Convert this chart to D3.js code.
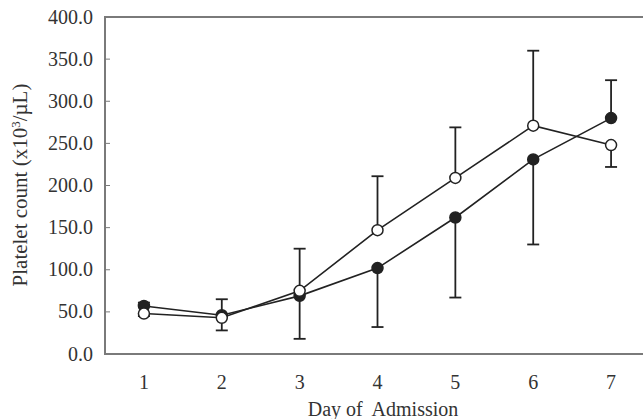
<!DOCTYPE html>
<html lang="en">
<head>
<meta charset="utf-8">
<script src="https://cdn.jsdelivr.net/npm/d3@7"></script>
<style>
  body { margin: 0; background: #fff; }
  text { font-family: "Liberation Serif", "Times New Roman", serif; fill: #333; }
  .frame { stroke: #7a7a7a; stroke-width: 2; fill: none; }
  .series { fill: none; stroke: #222; stroke-width: 1.6; }
  .err { stroke: #222; stroke-width: 1.8; }
</style>
</head>
<body>
<div id="chart"></div>
<script>
// data
var days = ["1", "2", "3", "4", "5", "6", "7"];
var filledMean = [57, 46, 69, 102, 162, 231, 280];
var filledSD   = [4, 19, 51, 70, 95, 101, 45];
var openMean   = [48, 43, 75, 147, 209, 271, 248];
var openSD     = [3, 15, 50, 64, 60, 89, 26];
var yTicks = [0, 50, 100, 150, 200, 250, 300, 350, 400];

var width = 643, height = 419;
var margin = {top: 17, right: -7, bottom: 65, left: 105};

var svg = d3.select("#chart").append("svg")
    .attr("width", width)
    .attr("height", height);

var x = d3.scaleBand()
    .domain(days)
    .range([margin.left, width - margin.right]);

var y = d3.scaleLinear()
    .domain([0, 400])
    .range([height - margin.bottom, margin.top]);

var cx = function(d, i) { return x(days[i]) + x.bandwidth() / 2; };

// frame: left axis, top line, bottom line (right side runs off the image)
svg.append("path")
    .attr("class", "frame")
    .attr("d", "M" + (width + 5) + "," + y(400) + "H" + margin.left + "V" + y(0) + "H" + (width + 5));

// y ticks (inside) and labels
svg.selectAll(".ytick").data(yTicks).enter().append("line")
    .attr("x1", margin.left).attr("x2", margin.left + 5)
    .attr("y1", function(d) { return y(d); })
    .attr("y2", function(d) { return y(d); })
    .style("stroke", "#7a7a7a").style("stroke-width", 1);

svg.selectAll(".ylab").data(yTicks).enter().append("text")
    .attr("x", 93)
    .attr("y", function(d) { return y(d) + 6.5; })
    .style("text-anchor", "end")
    .style("font-size", "20px")
    .text(function(d) { return d.toFixed(1); });

// x labels
svg.selectAll(".xlab").data(days).enter().append("text")
    .attr("x", function(d) { return x(d) + x.bandwidth() / 2; })
    .attr("y", 389)
    .style("text-anchor", "middle")
    .style("font-size", "20px")
    .text(function(d) { return d; });

svg.append("text")
    .attr("x", 383)
    .attr("y", 416)
    .style("text-anchor", "middle")
    .style("font-size", "20px")
    .style("white-space", "pre")
    .text("Day of  Admission");

svg.append("text")
    .attr("transform", "translate(27," + 185 + ") rotate(-90)")
    .style("text-anchor", "middle")
    .style("font-size", "21px")
    .html("Platelet count (x10<tspan dy='-7' font-size='13px'>3</tspan><tspan dy='7'>/µL)</tspan>");

// error bars: one-sided, pointing away from the other series
function drawErr(mean, sd, other) {
  var g = svg.append("g");
  mean.forEach(function(m, i) {
    var end = m >= other[i] ? m + sd[i] : m - sd[i];
    var px = cx(m, i);
    g.append("line").attr("class", "err")
      .attr("x1", px).attr("x2", px)
      .attr("y1", y(m)).attr("y2", y(end));
    g.append("line").attr("class", "err")
      .attr("x1", px - 6).attr("x2", px + 6)
      .attr("y1", y(end)).attr("y2", y(end));
  });
}
drawErr(filledMean, filledSD, openMean);
drawErr(openMean, openSD, filledMean);

var line = d3.line()
    .x(function(d, i) { return cx(d, i); })
    .y(function(d) { return y(d); });

svg.append("path").datum(filledMean).attr("class", "series").attr("d", line);
svg.append("path").datum(openMean).attr("class", "series").attr("d", line);

svg.selectAll(".filled").data(filledMean).enter().append("circle")
    .attr("cx", cx).attr("cy", function(d) { return y(d); })
    .attr("r", 5.5)
    .style("fill", "#222").style("stroke", "#222").style("stroke-width", 1.5);

svg.selectAll(".open").data(openMean).enter().append("circle")
    .attr("cx", cx).attr("cy", function(d) { return y(d); })
    .attr("r", 5.5)
    .style("fill", "#fff").style("stroke", "#222").style("stroke-width", 1.5);
</script>
</body>
</html>
